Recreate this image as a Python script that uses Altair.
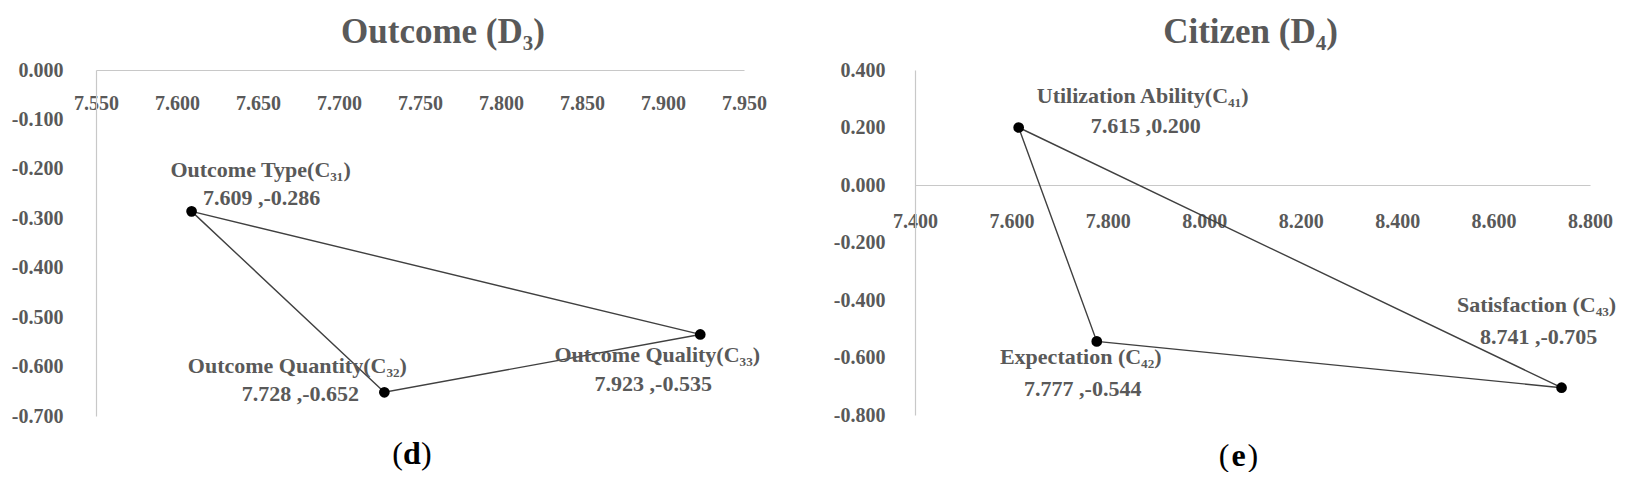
import altair as alt
import pandas as pd

# ---------------- data ----------------
# Panel (d): Outcome (D3)
d_names = ["Outcome Type(C₃₁)", "Outcome Quantity(C₃₂)", "Outcome Quality(C₃₃)"]
d_x = [7.609, 7.728, 7.923]
d_y = [-0.286, -0.652, -0.535]
d_xticks = [7.550, 7.600, 7.650, 7.700, 7.750, 7.800, 7.850, 7.900, 7.950]
d_yticks = [0.000, -0.100, -0.200, -0.300, -0.400, -0.500, -0.600, -0.700]

# Panel (e): Citizen (D4)
e_names = ["Utilization Ability(C₄₁)", "Expectation (C₄₂)", "Satisfaction (C₄₃)"]
e_x = [7.615, 7.777, 8.741]
e_y = [0.200, -0.544, -0.705]
e_xticks = [7.400, 7.600, 7.800, 8.000, 8.200, 8.400, 8.600, 8.800]
e_yticks = [0.400, 0.200, 0.000, -0.200, -0.400, -0.600, -0.800]

# ---------------- style ----------------
FONT = "Liberation Serif"
GRAY = "#595959"
AXIS_GRAY = "#c8c8c8"
LINE = "#404040"
TICK_FS = 20
LABEL_FS = 22
TITLE_FS = 35
LABEL_EXPR = "(datum.value < -0.0000001 ? '-' : '') + format(abs(datum.value), '.3f')"


def panel(title, caption, names, xs, ys, xticks, yticks, width, height,
          ylabelpad, xlabelpad, offsets, title_dx, cap_dx, cap_y):
    pts = pd.DataFrame({
        "name": names, "x": xs, "y": ys,
        "coord": [f"{a:.3f} ,{b:.3f}" for a, b in zip(xs, ys)],
    })
    loop = pd.concat([pts, pts.iloc[[0]]], ignore_index=True)
    loop["order"] = list(range(len(loop)))

    ymin, ymax = min(yticks), max(yticks)
    zero_from_top = (ymax - 0.0) / (ymax - ymin) * height
    xoffset = -(height - zero_from_top)

    xsc = alt.Scale(domain=[min(xticks), max(xticks)], nice=False, zero=False)
    ysc = alt.Scale(domain=[ymin, ymax], nice=False, zero=False)
    xax = alt.Axis(values=xticks, labelExpr=LABEL_EXPR, orient="bottom",
                   offset=xoffset, domainColor=AXIS_GRAY, domainWidth=1.2,
                   ticks=False, tickSize=0, grid=False, labelPadding=xlabelpad,
                   labelFlush=False, labelOverlap=False, labelFont=FONT,
                   labelFontWeight="bold", labelFontSize=TICK_FS,
                   labelColor=GRAY, title=None)
    yax = alt.Axis(values=yticks, labelExpr=LABEL_EXPR, orient="left",
                   domainColor=AXIS_GRAY, domainWidth=1.2, ticks=False,
                   tickSize=0, grid=False, labelPadding=ylabelpad,
                   labelFlush=False, labelOverlap=False, labelFont=FONT,
                   labelFontWeight="bold", labelFontSize=TICK_FS,
                   labelColor=GRAY, title=None, minExtent=88, maxExtent=88)

    lines = alt.Chart(loop).mark_line(color=LINE, strokeWidth=1.4).encode(
        x=alt.X("x:Q", scale=xsc, axis=xax),
        y=alt.Y("y:Q", scale=ysc, axis=yax),
        order="order:Q",
    )
    dots = alt.Chart(pts).mark_point(filled=True, color="black", size=115,
                                     opacity=1).encode(
        x=alt.X("x:Q", scale=xsc), y=alt.Y("y:Q", scale=ysc))

    layers = [lines, dots]
    for nm, (dx1, dy1, dx2, dy2) in zip(names, offsets):
        sub = alt.Chart(pts).transform_filter(alt.datum.name == nm)
        layers.append(sub.mark_text(font=FONT, fontSize=LABEL_FS,
                                    fontWeight="bold", color=GRAY,
                                    dx=dx1, dy=dy1, baseline="middle").encode(
            x=alt.X("x:Q", scale=xsc), y=alt.Y("y:Q", scale=ysc), text="name:N"))
        layers.append(sub.mark_text(font=FONT, fontSize=LABEL_FS,
                                    fontWeight="bold", color=GRAY,
                                    dx=dx2, dy=dy2, baseline="middle").encode(
            x=alt.X("x:Q", scale=xsc), y=alt.Y("y:Q", scale=ysc), text="coord:N"))

    tdf = pd.DataFrame({"t": [title]})
    layers.append(alt.Chart(tdf).mark_text(
        font=FONT, fontSize=TITLE_FS, fontWeight="bold", color=GRAY,
        baseline="middle", align="center").encode(
        x=alt.value(width / 2 + title_dx), y=alt.value(-38), text="t:N"))

    cx = width / 2 + cap_dx
    cdf = pd.DataFrame({"a": ["("], "b": [caption], "c": [")"]})
    cap = alt.Chart(cdf)
    layers.append(cap.mark_text(font=FONT, fontSize=32, color="black",
                                baseline="middle", align="right").encode(
        x=alt.value(cx - 9), y=alt.value(cap_y), text="a:N"))
    layers.append(cap.mark_text(font=FONT, fontSize=32, fontWeight="bold",
                                color="black", baseline="middle",
                                align="center").encode(
        x=alt.value(cx), y=alt.value(cap_y), text="b:N"))
    layers.append(cap.mark_text(font=FONT, fontSize=32, color="black",
                                baseline="middle", align="left").encode(
        x=alt.value(cx + 9), y=alt.value(cap_y), text="c:N"))

    return alt.layer(*layers).properties(width=width, height=height)


left = panel("Outcome (D₃)", "d", d_names, d_x, d_y, d_xticks, d_yticks,
             648, 346, 33, 23,
             [(69, -41, 70, -13), (-87, -26, -84, 2), (-43, 21, -47, 50)],
             23, -8, 384)
right = panel("Citizen (D₄)", "e", e_names, e_x, e_y, e_xticks, e_yticks,
              675, 345, 30, 26,
              [(124, -32, 127, -2), (-16, 16, -14, 48), (-25, -83, -23, -51)],
              -2, -14, 386)

chart = alt.hconcat(left, right, spacing=171, bounds="flush").properties(
    padding={"left": 0, "top": 7, "right": 0, "bottom": 0}
).configure_view(strokeWidth=0)

chart.save("out.html", embed_options={"renderer": "svg", "actions": False})
